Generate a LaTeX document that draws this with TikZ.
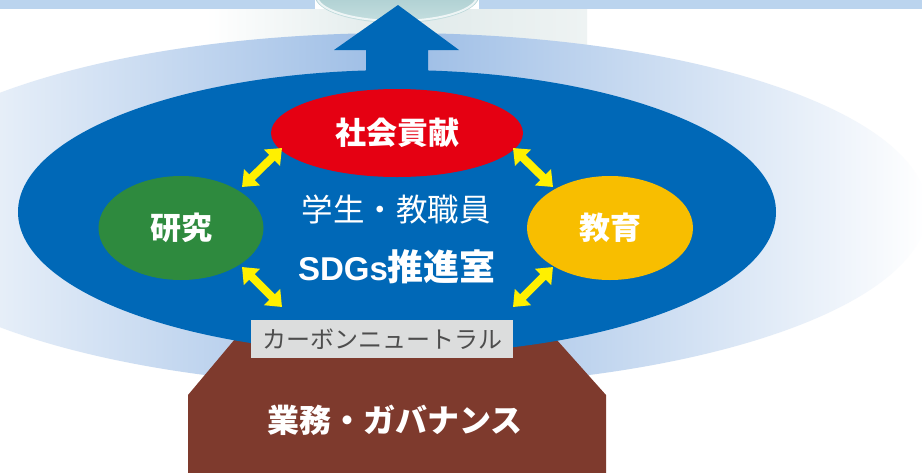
\documentclass[tikz,border=0pt]{standalone}
\usepackage{fontspec}
\newfontfamily\jp{Noto Sans CJK JP}
\newfontfamily\lat{Liberation Sans}
\usetikzlibrary{arrows.meta,shapes.geometric}
\definecolor{sdgblue}{HTML}{0068B7}
\definecolor{outerblue}{HTML}{9BBCE5}
\definecolor{bandblue}{HTML}{BBD4EE}
\definecolor{glowM}{HTML}{E0EAEA}
\definecolor{glowR}{HTML}{EEF3F3}
\definecolor{blobtop}{HTML}{97C1C5}
\definecolor{blobbot}{HTML}{C6DFE0}
\definecolor{redel}{HTML}{E50012}
\definecolor{greenel}{HTML}{2E8A3E}
\definecolor{yellowel}{HTML}{F8BE00}
\definecolor{arrowyellow}{HTML}{FFF000}
\definecolor{brownbase}{HTML}{7E3A2D}
\definecolor{cngray}{HTML}{DCDDDD}
\definecolor{cntext}{HTML}{4D4D4D}
\begin{document}
\begin{tikzpicture}[x=1pt,y=-1pt,
  topic/.style={ellipse, inner sep=0pt, text=white, font=\jp\bfseries\fontsize{31}{31}\selectfont},
  yarrow/.style={draw=arrowyellow, line width=8pt, {Triangle[width=22pt,length=14pt]}-{Triangle[width=22pt,length=14pt]}},
  plain/.style={inner sep=0pt, text=white}]
\useasboundingbox (0,0) rectangle (922,472);
\fill[white] (0,0) rectangle (922,472);
% soft glow behind the arrow
\shade[left color=white, right color=glowR, middle color=glowM] (205,9) rectangle (587,90);
% top band and glass blob
\fill[bandblue] (0,0) rectangle (315,9);
\fill[bandblue] (479,0) rectangle (922,9);
\begin{scope}
  \clip (315,0) rectangle (479,40);
  \shade[top color=blobtop, bottom color=blobbot] (397,-4) ellipse [x radius=82, y radius=27];
  \draw[white, line width=2pt, opacity=.75] (397,-4) ellipse [x radius=80, y radius=25];
\end{scope}
% outer light ellipse
\shade[left color=white, right color=white, middle color=outerblue] (397,210) ellipse [x radius=530, y radius=177];
% base
\fill[brownbase] (240,320) -- (235,339) -- (188,395) -- (188,480) -- (606,480) -- (606,395) -- (556,339) -- (551,320) -- cycle;
% up arrow
\fill[sdgblue] (366,80) -- (366,50) -- (334,50) -- (398,5) -- (459,50) -- (428,50) -- (428,80) -- cycle;
% main blue ellipse
\fill[sdgblue] (397,212) ellipse [x radius=379, y radius=142];
% topic ellipses
\node[topic, fill=redel, minimum width=252pt, minimum height=88pt] (shakai) at (397,133) {社会貢献};
\node[topic, fill=greenel, minimum width=165pt, minimum height=104pt] (kenkyu) at (181,228) {研究};
\node[topic, fill=yellowel, minimum width=166pt, minimum height=104pt] (kyoiku) at (610,228) {教育};
% centre texts
\node[plain, font=\jp\fontsize{31.5}{31.5}\selectfont] (gakusei) at (396,209) {学生・教職員};
\node[plain, font=\jp\bfseries\fontsize{36}{36}\selectfont] (sdgs) at (397,267) {{\lat\fontsize{33}{33}\selectfont SDGs}推進室};
% carbon neutral label
\node[fill=cngray, minimum width=262pt, minimum height=38pt, inner sep=0pt, text=cntext, font=\jp\fontsize{24}{24}\selectfont] (cn) at (382,339) {カーボンニュートラル};
% base label
\node[plain, font=\jp\bfseries\fontsize{32}{32}\selectfont] (gyomu) at (395,420) {業務・ガバナンス};
% yellow double arrows
\coordinate (a1) at (282,148); \coordinate (b1) at (242,187);
\coordinate (a2) at (513,148); \coordinate (b2) at (553,187);
\coordinate (a3) at (242,267); \coordinate (b3) at (282,307);
\coordinate (a4) at (553,267); \coordinate (b4) at (513,307);
\draw[yarrow] (a1) -- (b1);
\draw[yarrow] (a2) -- (b2);
\draw[yarrow] (a3) -- (b3);
\draw[yarrow] (a4) -- (b4);
\end{tikzpicture}
\end{document}
